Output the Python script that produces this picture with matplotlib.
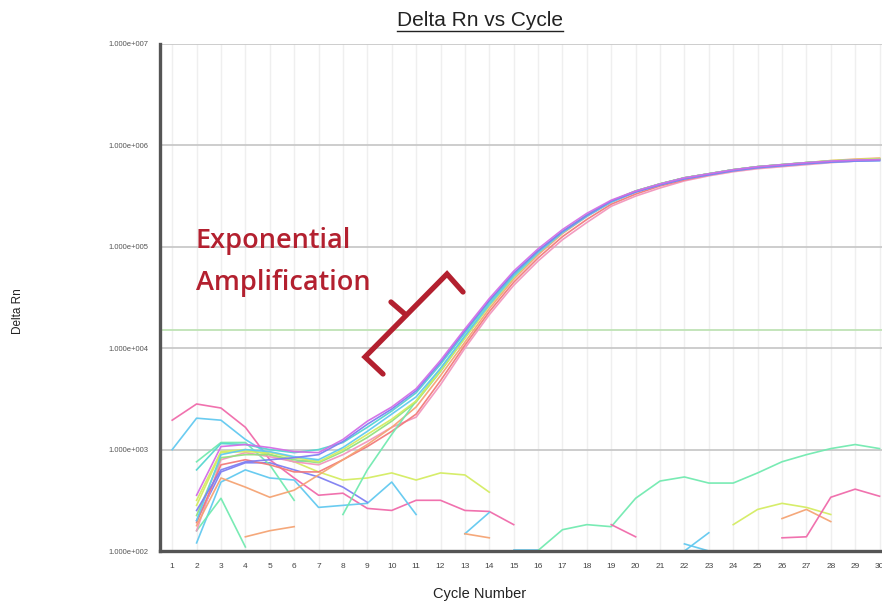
import numpy as np
import matplotlib
matplotlib.use("Agg")
import matplotlib.pyplot as plt
from matplotlib.lines import Line2D
from matplotlib.ticker import FixedLocator, FuncFormatter, NullLocator

# ---------------------------------------------------------------- data
cycles = list(range(1, 31))
decade_exponents = [2, 3, 4, 5, 6, 7]
threshold = 1.5e4

# Amplification curves, log10(Delta Rn), cycles 2..30
amp_start = 2
amp_magenta = [2.55, 3.03, 3.05, 3.02, 2.98, 2.97, 3.10, 3.28, 3.42, 3.60, 3.88, 4.19, 4.49, 4.76, 4.98,
               5.17, 5.33, 5.46, 5.55, 5.62, 5.68, 5.72, 5.76, 5.79, 5.81, 5.83, 5.845, 5.855, 5.86]
amp_violet = [2.40, 2.80, 2.88, 2.90, 2.92, 2.95, 3.08, 3.25, 3.40, 3.58, 3.86, 4.17, 4.47, 4.74, 4.96,
              5.15, 5.31, 5.45, 5.54, 5.61, 5.67, 5.71, 5.75, 5.78, 5.80, 5.82, 5.835, 5.845, 5.85]
amp_teal = [2.80, 3.06, 3.05, 3.00, 2.97, 3.00, 3.07, 3.22, 3.38, 3.56, 3.84, 4.15, 4.46, 4.73, 4.96,
            5.15, 5.31, 5.45, 5.55, 5.62, 5.68, 5.72, 5.76, 5.79, 5.81, 5.83, 5.845, 5.855, 5.86]
amp_sky = [2.30, 2.95, 3.00, 2.98, 2.93, 2.90, 3.02, 3.18, 3.35, 3.52, 3.80, 4.12, 4.43, 4.71, 4.94,
           5.14, 5.30, 5.44, 5.54, 5.61, 5.67, 5.71, 5.75, 5.78, 5.80, 5.82, 5.835, 5.845, 5.85]
amp_yellow = [2.45, 2.97, 2.98, 2.97, 2.92, 2.88, 3.00, 3.15, 3.30, 3.48, 3.78, 4.10, 4.42, 4.70, 4.94,
              5.14, 5.31, 5.45, 5.55, 5.62, 5.68, 5.72, 5.76, 5.79, 5.81, 5.83, 5.85, 5.86, 5.87]
amp_green = [2.35, 2.92, 2.95, 2.95, 2.90, 2.87, 2.98, 3.12, 3.28, 3.47, 3.77, 4.10, 4.42, 4.70, 4.94,
             5.14, 5.31, 5.45, 5.55, 5.62, 5.68, 5.72, 5.76, 5.79, 5.81, 5.83, 5.845, 5.855, 5.865]
amp_orange = [2.25, 2.72, 2.63, 2.53, 2.60, 2.75, 2.90, 3.05, 3.22, 3.42, 3.73, 4.06, 4.39, 4.68, 4.92,
              5.13, 5.30, 5.44, 5.54, 5.62, 5.68, 5.72, 5.76, 5.79, 5.81, 5.83, 5.85, 5.865, 5.875]
amp_salmon = [2.28, 2.85, 2.90, 2.85, 2.78, 2.78, 2.90, 3.03, 3.18, 3.35, 3.68, 4.03, 4.36, 4.65, 4.89,
              5.10, 5.27, 5.42, 5.52, 5.60, 5.66, 5.71, 5.75, 5.78, 5.80, 5.82, 5.84, 5.855, 5.865]
amp_pink = [2.20, 2.90, 2.97, 2.93, 2.88, 2.85, 2.95, 3.08, 3.22, 3.32, 3.64, 4.00, 4.33, 4.62, 4.86,
            5.07, 5.24, 5.40, 5.50, 5.58, 5.65, 5.70, 5.74, 5.77, 5.79, 5.81, 5.83, 5.845, 5.855]
# late-rising well, cycles 8..30
amp_mint_start = 8
amp_mint = [2.36, 2.80, 3.15, 3.48, 3.80, 4.12, 4.44, 4.72, 4.95, 5.15, 5.31, 5.45, 5.55, 5.62, 5.68,
            5.72, 5.76, 5.79, 5.81, 5.83, 5.845, 5.855, 5.865]

# Baseline (non-amplifying) traces, log10(Delta Rn), with first cycle
noise_pink_start, noise_pink = 1, [3.29, 3.45, 3.41, 3.22, 2.90, 2.72, 2.55, 2.57, 2.42, 2.40,
                                   2.50, 2.50, 2.40, 2.39, 2.26]
noise_sky_start, noise_sky = 1, [3.00, 3.31, 3.29, 3.10, 2.95, 2.88, 2.90]
noise_blue_start, noise_blue = 2, [2.08, 2.68, 2.80, 2.72, 2.70, 2.43, 2.45, 2.47, 2.68, 2.36]
noise_yellow_start, noise_yellow = 2, [2.50, 2.98, 3.00, 2.95, 2.88, 2.78, 2.70, 2.72, 2.77, 2.70,
                                       2.77, 2.75, 2.58]
noise_purple_start, noise_purple = 2, [2.30, 2.78, 2.87, 2.87, 2.80, 2.73, 2.63, 2.48]
noise_mint_a_start, noise_mint_a = 2, [2.20, 2.52, 2.04]
noise_mint_b_start, noise_mint_b = 2, [2.88, 3.07, 3.07, 2.85, 2.50]
noise_orange_a_start, noise_orange_a = 4, [2.14, 2.20, 2.24]
noise_blue_b_start, noise_blue_b = 13, [2.17, 2.38]
noise_orange_b_start, noise_orange_b = 13, [2.17, 2.13]
noise_blue_c_start, noise_blue_c = 15, [2.005, 2.005]
noise_mint_c_start, noise_mint_c = 16, [2.005, 2.21, 2.26, 2.24, 2.52, 2.69, 2.73, 2.67, 2.67, 2.77,
                                        2.88, 2.95, 3.01, 3.05, 3.01]
noise_pink_b_start, noise_pink_b = 19, [2.26, 2.14]
noise_blue_d_start, noise_blue_d = 22, [2.07, 2.0]
noise_blue_e_start, noise_blue_e = 22, [2.0, 2.18]
noise_yellow_b_start, noise_yellow_b = 24, [2.26, 2.41, 2.47, 2.43, 2.36]
noise_orange_c_start, noise_orange_c = 26, [2.32, 2.41, 2.29]
noise_pink_c_start, noise_pink_c = 26, [2.13, 2.14, 2.53, 2.61, 2.54]

# ---------------------------------------------------------------- styles
C_MAGENTA = "#d36ee6"
C_VIOLET = "#7f7ff2"
C_TEAL = "#55d6cf"
C_SKY = "#62c9f0"
C_YELLOW = "#d4ec62"
C_GREEN = "#93e27e"
C_ORANGE = "#f5a474"
C_SALMON = "#f27a7a"
C_PINK = "#f296bd"
C_MINT = "#72eab0"
C_HOTPINK = "#f06aaa"
C_RED = "#b3202f"

W, H = 882, 604
fig = plt.figure(figsize=(W / 100, H / 100), dpi=100)
fig.patch.set_facecolor("white")

ax_left, ax_right, ax_top, ax_bottom = 160, 882, 44, 551
ax = fig.add_axes([ax_left / W, 1 - ax_bottom / H, (ax_right - ax_left) / W, (ax_bottom - ax_top) / H])
ax.set_yscale("log")
ax.set_xlim(0.5, 30.1)
ax.set_ylim(10.0 ** decade_exponents[0], 10.0 ** decade_exponents[-1])

# grid
for c in cycles:
    ax.axvline(c, color="#efefef", lw=1.0, zorder=0)
for e in decade_exponents:
    ax.axhline(10.0 ** e, color="#c9c9c9", lw=1.3, zorder=0.5)

# threshold
ax.axhline(threshold, color="#bfe3b5", lw=1.3, zorder=1)


def trace(start, logs, color, z=2, lw=1.2, alpha=0.95):
    xs = np.arange(start, start + len(logs))
    ax.plot(xs, np.power(10.0, logs), color=color, lw=lw, alpha=alpha, zorder=z,
            solid_joinstyle="round", clip_on=False)


# baseline traces
trace(noise_pink_start, noise_pink, C_HOTPINK)
trace(noise_sky_start, noise_sky, C_SKY)
trace(noise_blue_start, noise_blue, C_SKY)
trace(noise_yellow_start, noise_yellow, C_YELLOW)
trace(noise_purple_start, noise_purple, C_VIOLET)
trace(noise_mint_a_start, noise_mint_a, C_MINT)
trace(noise_mint_b_start, noise_mint_b, C_MINT)
trace(noise_orange_a_start, noise_orange_a, C_ORANGE)
trace(noise_blue_b_start, noise_blue_b, C_SKY)
trace(noise_orange_b_start, noise_orange_b, C_ORANGE)
trace(noise_blue_c_start, noise_blue_c, C_SKY)
trace(noise_mint_c_start, noise_mint_c, C_MINT)
trace(noise_pink_b_start, noise_pink_b, C_HOTPINK)
trace(noise_blue_d_start, noise_blue_d, C_SKY)
trace(noise_blue_e_start, noise_blue_e, C_SKY)
trace(noise_yellow_b_start, noise_yellow_b, C_YELLOW)
trace(noise_orange_c_start, noise_orange_c, C_ORANGE)
trace(noise_pink_c_start, noise_pink_c, C_HOTPINK)

# amplification traces
trace(amp_start, amp_pink, C_PINK, z=3)
trace(amp_start, amp_salmon, C_SALMON, z=3)
trace(amp_start, amp_orange, C_ORANGE, z=3)
trace(amp_mint_start, amp_mint, C_MINT, z=3)
trace(amp_start, amp_green, C_GREEN, z=3)
trace(amp_start, amp_yellow, C_YELLOW, z=3)
trace(amp_start, amp_sky, C_SKY, z=3)
trace(amp_start, amp_teal, C_TEAL, z=3)
trace(amp_start, amp_violet, C_VIOLET, z=3)
trace(amp_start, amp_magenta, C_MAGENTA, z=3)

# axes styling
for side in ("top", "right"):
    ax.spines[side].set_visible(False)
for side in ("left", "bottom"):
    ax.spines[side].set_color("#555555")
    ax.spines[side].set_linewidth(2.4)
    ax.spines[side].set_zorder(5)

ax.xaxis.set_major_locator(FixedLocator(cycles))
ax.set_xticklabels([str(c) for c in cycles])
ax.yaxis.set_major_locator(FixedLocator([10.0 ** e for e in decade_exponents]))
ax.yaxis.set_minor_locator(NullLocator())
ax.yaxis.set_major_formatter(FuncFormatter(lambda v, p: "1.000e+%03d" % int(round(np.log10(v)))))
ax.tick_params(axis="x", length=0, pad=9, labelsize=6, labelcolor="#444444")
ax.tick_params(axis="y", length=0, pad=8, labelsize=5.5, labelcolor="#555555")
for lab in ax.get_xticklabels() + ax.get_yticklabels():
    lab.set_fontfamily("Liberation Sans")

# titles and axis labels
title = fig.text(480 / W, 1 - 20 / H, "Delta Rn vs Cycle", ha="center", va="center",
                 fontsize=15, color="#222222", family="Liberation Sans")
fig.text(480 / W, 1 - 594 / H, "Cycle Number", ha="center", va="center",
         fontsize=10.5, color="#222222", family="Liberation Sans")
fig.text(18 / W, 1 - 311 / H, "Delta Rn", ha="center", va="center", rotation=90,
         fontsize=8.5, color="#222222", family="Liberation Sans")

# annotation
fig.text(196 / W, 1 - 241 / H, "Exponential", ha="left", va="center", fontsize=19.5,
         color=C_RED, family="Open Sans", fontweight="semibold")
fig.text(196 / W, 1 - 283 / H, "Amplification", ha="left", va="center", fontsize=19.5,
         color=C_RED, family="Open Sans", fontweight="semibold")


def px(x, y):
    return x / W, 1 - y / H


bracket = [px(383, 374), px(365, 357), px(447, 274), px(463, 292)]
fig.add_artist(Line2D([p[0] for p in bracket], [p[1] for p in bracket], color=C_RED, lw=3.8,
                      solid_capstyle="round", solid_joinstyle="miter", zorder=10))
tick = [px(406, 315), px(391, 302)]
fig.add_artist(Line2D([p[0] for p in tick], [p[1] for p in tick], color=C_RED, lw=3.8,
                      solid_capstyle="round", zorder=10))

# underline the title
fig.canvas.draw()
bb = title.get_window_extent()
uy = bb.y0 - 1
fig.add_artist(Line2D([bb.x0 / W, bb.x1 / W], [uy / H, uy / H], color="#222222", lw=1.0))

fig.savefig("out.png", dpi=100, facecolor="white")
